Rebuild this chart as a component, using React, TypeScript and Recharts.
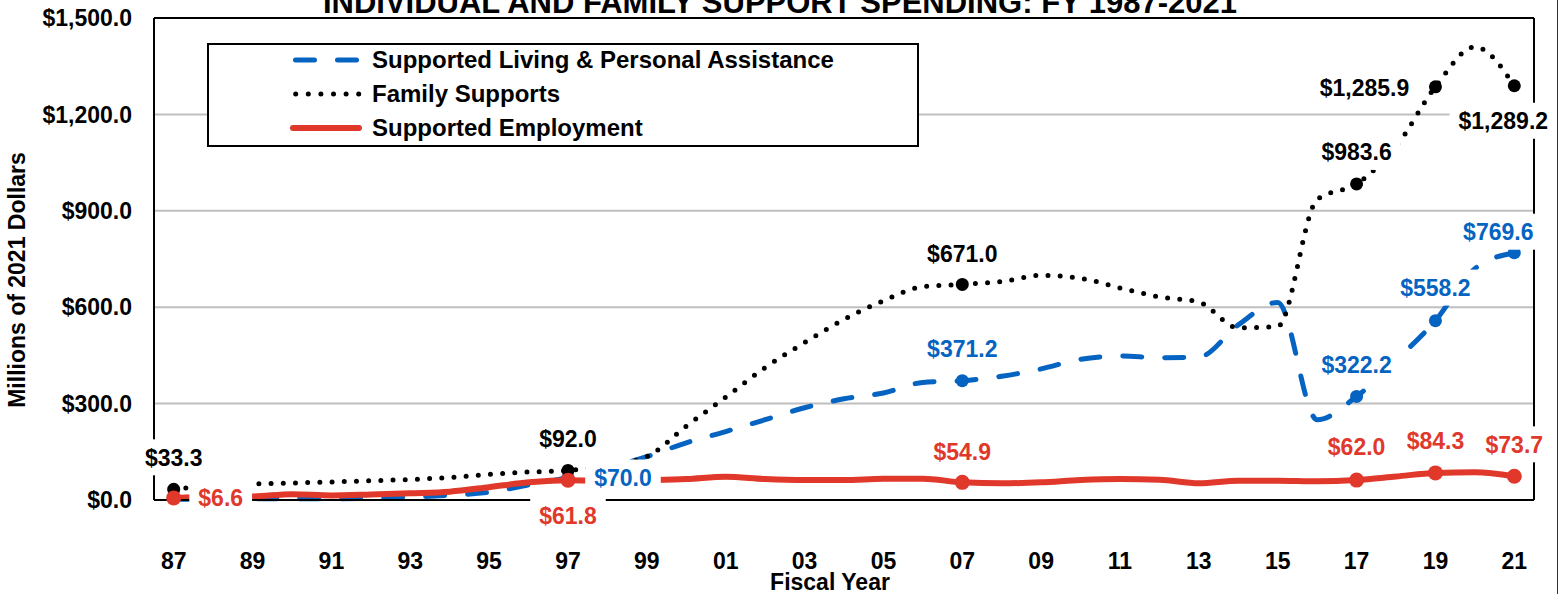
import {
  CartesianGrid,
  LabelList,
  Legend,
  Line,
  LineChart,
  XAxis,
  YAxis,
} from "recharts";

const years = [
  "87", "88", "89", "90", "91", "92", "93", "94", "95", "96",
  "97", "98", "99", "00", "01", "02", "03", "04", "05", "06",
  "07", "08", "09", "10", "11", "12", "13", "14", "15", "16",
  "17", "18", "19", "20", "21",
];

const supportedLiving = [
  2, 3, 4, 4, 4, 5, 9, 15, 24, 47,
  70.0, 100, 135, 178, 213, 250, 287, 315, 333, 366,
  371.2, 385, 408, 438, 448, 443, 445, 545, 615, 250,
  322.2, 435, 558.2, 720, 769.6,
];

const familySupports = [
  33.3, 45, 50, 53, 56, 60, 64, 70, 80, 87,
  92.0, 108, 135, 230, 320, 412, 490, 562, 620, 664,
  671.0, 680, 699, 690, 660, 632, 616, 536, 540, 935,
  983.6, 1100, 1285.9, 1410, 1289.2,
];

const supportedEmployment = [
  6.6, 10, 11, 18, 14, 17, 21, 26, 40, 55,
  61.8, 60, 62, 65, 72, 65, 62, 62, 66, 66,
  54.9, 52, 55, 62, 65, 63, 52, 60, 60, 58,
  62.0, 73, 84.3, 86, 73.7,
];

const yTicks = [0, 300, 600, 900, 1200, 1500];

const data = years.map((year, i) => ({
  year,
  living: supportedLiving[i],
  family: familySupports[i],
  employment: supportedEmployment[i],
}));

const FONT = '"Liberation Sans", Arial, sans-serif';
const BLUE = "#0563C1";
const RED = "#E0382B";
const BLACK = "#000000";
const PAD = { left: 19.7, right: 19.7 };

// label placement: [dx, dy] from the point to the label centre
const livingSpots: Record<string, number[]> = {
  "97": [55, 0],
  "07": [0, -32],
  "17": [0, -32],
  "19": [0, -33],
  "21": [-16, -21],
};
const familySpots: Record<string, number[]> = {
  "87": [0, -32],
  "97": [0, -32],
  "07": [0, -31],
  "17": [0, -32],
  "19": [-71, 1],
  "21": [-11, 35],
};
const employmentSpots: Record<string, number[]> = {
  "87": [47, 0],
  "97": [0, 36],
  "07": [0, -31],
  "17": [0, -33],
  "19": [0, -32],
  "21": [0, -32],
};

const money = (v: number) =>
  "$" +
  v.toLocaleString("en-US", {
    minimumFractionDigits: 1,
    maximumFractionDigits: 1,
  });

const textWidth = (s: string, size: number) =>
  s.split("").reduce((w, c) => w + (c === "," || c === "." ? 0.278 : 0.556), 0) * size;

const makeDot = (spots: Record<string, number[]>, color: string, r: number) => (props: any) => {
  const { cx, cy, index } = props;
  if (!spots[years[index]]) return <g key={`d-${index}`} />;
  return <circle key={`d-${index}`} cx={cx} cy={cy} r={r} fill={color} />;
};

const makeLabel = (spots: Record<string, number[]>, color: string) => (props: any) => {
  const { x, y, value, index } = props;
  const spot = spots[years[index]];
  if (!spot) return null;
  const text = money(value);
  const w = textWidth(text, 23);
  const cx = x + spot[0];
  const cy = y + spot[1];
  return (
    <g key={`l-${index}`}>
      <rect x={cx - w / 2 - 9} y={cy - 18} width={w + 18} height={36} fill="#fff" />
      <text
        x={cx}
        y={cy}
        dy="0.36em"
        textAnchor="middle"
        fill={color}
        fontSize={23}
        fontWeight={700}
        fontFamily={FONT}
      >
        {text}
      </text>
    </g>
  );
};

const legendItems = [
  { name: "Supported Living & Personal Assistance", color: BLUE, dash: "19 23", x1: 86.5, x2: 148, w: 5 },
  { name: "Family Supports", color: BLACK, dash: "0 12.6", x1: 86.7, x2: 150, w: 5 },
  { name: "Supported Employment", color: RED, dash: undefined, x1: 84, x2: 150, w: 6 },
];

const LegendBox = () => (
  <div
    style={{
      width: 712,
      height: 104,
      border: "2px solid #000",
      background: "#fff",
      boxSizing: "border-box",
      position: "relative",
      fontFamily: FONT,
      fontWeight: 700,
      fontSize: 24,
      color: "#000",
    }}
  >
    {legendItems.map((item, i) => (
      <div
        key={item.name}
        style={{
          position: "absolute",
          left: 0,
          top: -2 + i * 34,
          height: 34,
          display: "flex",
          alignItems: "center",
          whiteSpace: "nowrap",
        }}
      >
        <svg width={163} height={34} style={{ display: "block" }}>
          <line
            x1={item.x1}
            x2={item.x2}
            y1={17}
            y2={17}
            stroke={item.color}
            strokeWidth={item.w}
            strokeDasharray={item.dash}
            strokeLinecap="round"
          />
        </svg>
        <span>{item.name}</span>
      </div>
    ))}
  </div>
);

const XTick = (props: any) => (
  <text
    x={props.x}
    y={props.y + 69}
    textAnchor="middle"
    fill="#000"
    fontSize={23}
    fontWeight={700}
    fontFamily={FONT}
  >
    {props.payload.value}
  </text>
);

const SpendingChart = () => {
  return (
    <div style={{ position: "relative", width: 1562, height: 594, background: "#fff" }}>
      <style>{"body{margin:0}"}</style>
      <LineChart
        width={1562}
        height={594}
        data={data}
        margin={{ top: 17, right: 27, bottom: 0, left: 0 }}
      >
        <CartesianGrid vertical={false} stroke="#BFBFBF" strokeWidth={2} />
        <XAxis
          dataKey="year"
          height={94}
          padding={PAD}
          interval={1}
          tickLine={false}
          tickSize={0}
          tickMargin={0}
          axisLine={{ stroke: "#000", strokeWidth: 2 }}
          tick={XTick}
          label={{
            content: (p: any) => (
              <text
                x={p.viewBox.x + p.viewBox.width / 2 - 14}
                y={p.viewBox.y + 90}
                textAnchor="middle"
                fill="#000"
                fontSize={23}
                fontWeight={700}
                fontFamily={FONT}
              >
                Fiscal Year
              </text>
            ),
          }}
        />
        <XAxis
          xAxisId="top"
          orientation="top"
          dataKey="year"
          height={1}
          padding={PAD}
          tick={false}
          tickLine={false}
          axisLine={{ stroke: "#000", strokeWidth: 2 }}
          label={{
            content: () => (
              <text
                x={780}
                y={13}
                textAnchor="middle"
                fill="#000"
                fontSize={31}
                fontWeight={700}
                fontFamily={FONT}
              >
                INDIVIDUAL AND FAMILY SUPPORT SPENDING: FY 1987-2021
              </text>
            ),
          }}
        />
        <YAxis
          width={154}
          domain={[0, 1500]}
          ticks={yTicks}
          tickLine={false}
          tickSize={0}
          tickMargin={22}
          tickFormatter={money}
          axisLine={{ stroke: "#000", strokeWidth: 2 }}
          tick={{ fill: "#000", fontSize: 23, fontWeight: 700, fontFamily: FONT }}
          label={{
            content: () => (
              <text
                transform="translate(25,280) rotate(-90)"
                textAnchor="middle"
                fill="#000"
                fontSize={23}
                fontWeight={700}
                fontFamily={FONT}
              >
                Millions of 2021 Dollars
              </text>
            ),
          }}
        />
        <YAxis
          yAxisId="right"
          orientation="right"
          width={1}
          domain={[0, 1500]}
          ticks={yTicks}
          tick={false}
          tickLine={false}
          axisLine={{ stroke: "#000", strokeWidth: 2 }}
        />
        <Legend
          verticalAlign="middle"
          align="center"
          wrapperStyle={{ left: 207, top: 43, width: 712, height: 104 }}
          content={() => <LegendBox />}
        />
        <Line
          type="monotone"
          dataKey="living"
          stroke={BLUE}
          strokeWidth={5}
          strokeDasharray="19 23"
          strokeLinecap="round"
          dot={makeDot(livingSpots, BLUE, 6.5)}
          activeDot={false}
          isAnimationActive={false}
        />
        <Line
          type="monotone"
          dataKey="family"
          stroke={BLACK}
          strokeWidth={5}
          strokeDasharray="0 12.2"
          strokeLinecap="round"
          dot={makeDot(familySpots, BLACK, 6.5)}
          activeDot={false}
          isAnimationActive={false}
        />
        <Line
          type="monotone"
          dataKey="employment"
          stroke={RED}
          strokeWidth={6}
          dot={makeDot(employmentSpots, RED, 7.5)}
          activeDot={false}
          isAnimationActive={false}
        />
        {/* label-only series on the frame axes, so the labels sit above all lines */}
        <Line
          xAxisId="top"
          yAxisId="right"
          dataKey="living"
          stroke="none"
          dot={false}
          activeDot={false}
          legendType="none"
          isAnimationActive={false}
        >
          <LabelList dataKey="living" content={makeLabel(livingSpots, BLUE)} />
        </Line>
        <Line
          xAxisId="top"
          yAxisId="right"
          dataKey="family"
          stroke="none"
          dot={false}
          activeDot={false}
          legendType="none"
          isAnimationActive={false}
        >
          <LabelList dataKey="family" content={makeLabel(familySpots, BLACK)} />
        </Line>
        <Line
          xAxisId="top"
          yAxisId="right"
          dataKey="employment"
          stroke="none"
          dot={false}
          activeDot={false}
          legendType="none"
          isAnimationActive={false}
        >
          <LabelList dataKey="employment" content={makeLabel(employmentSpots, RED)} />
        </Line>
      </LineChart>
      <div
        style={{
          position: "absolute",
          left: 1557,
          top: 0,
          width: 1,
          height: 594,
          background: "#333",
        }}
      />
    </div>
  );
};

export default SpendingChart;
